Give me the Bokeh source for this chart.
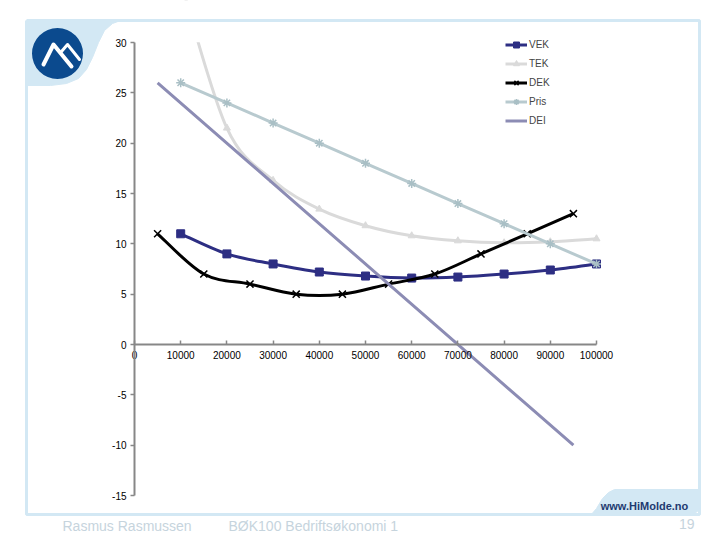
from bokeh.plotting import figure
from bokeh.models import Range1d, LinearAxis, FixedTicker, Legend, LegendItem, ColumnDataSource
from bokeh.core.properties import value
from bokeh.embed import file_html
from bokeh.resources import INLINE

# ---------------- data ----------------
quantity = [10000, 20000, 30000, 40000, 50000, 60000, 70000, 80000, 90000, 100000]
quantity_mid = [5000, 15000, 25000, 35000, 45000, 55000, 65000, 75000, 85000, 95000]
vek = [11.0, 9.0, 8.0, 7.2, 6.8, 6.6, 6.7, 7.0, 7.4, 8.0]
tek = [36.0, 21.5, 16.3, 13.45, 11.8, 10.8, 10.3, 10.1, 10.2, 10.5]
dek = [11, 7, 6, 5, 5, 6, 7, 9, 11, 13]
pris = [26, 24, 22, 20, 18, 16, 14, 12, 10, 8]
dei = [26, 22, 18, 14, 10, 6, 2, -2, -6, -10]
series_names = ["VEK", "TEK", "DEK", "Pris", "DEI"]
x_ticks = [0, 10000, 20000, 30000, 40000, 50000, 60000, 70000, 80000, 90000, 100000]
x_tick_labels = ["0", "10000", "20000", "30000", "40000", "50000", "60000", "70000", "80000", "90000", "100000"]
y_ticks = [-15, -10, -5, 0, 5, 10, 15, 20, 25, 30]
y_tick_labels = ["-15", "-10", "-5", "0", "5", "10", "15", "20", "25", "30"]
footer_left = "Rasmus Rasmussen"
footer_mid = "BØK100 Bedriftsøkonomi 1"
footer_url = "www.HiMolde.no"
page_number = "19"

W, H = 720, 540

# page pixel -> data helpers (for layout/decoration only)
def dx(px):
    return (px - 134) / 462 * 100000

def dy(py):
    return 30 - (py - 42) / 453 * 45

FONT = "Liberation Sans"
C_VEK = "#2D2E83"
C_TEK = "#DADADA"
C_DEK = "#000000"
C_PRIS = "#B8CACF"
C_DEI = "#8C8CB4"
C_DECO = "#D3E8F4"
NAN = float("nan")

p = figure(width=W, height=H,
           x_range=Range1d(dx(0), dx(W)), y_range=Range1d(dy(H), dy(0)),
           output_backend="svg", toolbar_location=None,
           x_axis_location=None, y_axis_location=None,
           min_border=0, outline_line_color=None)
p.xgrid.grid_line_color = None
p.ygrid.grid_line_color = None
p.background_fill_color = "white"
p.border_fill_color = "white"


def smooth(xs, ys):
    n = len(xs)
    d = dict(x0=[], y0=[], x1=[], y1=[], cx0=[], cy0=[], cx1=[], cy1=[])
    for i in range(n - 1):
        a = i - 1 if i > 0 else i
        b = i + 2 if i + 2 < n else i + 1
        d["x0"].append(xs[i]); d["y0"].append(ys[i])
        d["x1"].append(xs[i + 1]); d["y1"].append(ys[i + 1])
        d["cx0"].append(xs[i] + (xs[i + 1] - xs[a]) / 6)
        d["cy0"].append(ys[i] + (ys[i + 1] - ys[a]) / 6)
        d["cx1"].append(xs[i + 1] - (xs[b] - xs[i]) / 6)
        d["cy1"].append(ys[i + 1] - (ys[b] - ys[i]) / 6)
    return ColumnDataSource(d)


def curve(xs, ys, color):
    p.bezier(x0="x0", y0="y0", x1="x1", y1="y1", cx0="cx0", cy0="cy0", cx1="cx1", cy1="cy1",
             source=smooth(xs, ys), line_color=color, line_width=3)
    # legend swatch line (draws nothing on the chart)
    return p.line(x=[NAN], y=[NAN], line_color=color, line_width=3)

# VEK
l_vek = curve(quantity, vek, C_VEK)
s_vek = p.scatter(quantity, vek, marker="square", size=8, fill_color=C_VEK, line_color=C_VEK)
# TEK
l_tek = curve(quantity, tek, C_TEK)
s_tek = p.scatter(quantity, tek, marker="triangle", size=7, fill_color=C_TEK, line_color=C_TEK)
# clip TEK above the chart's top (y = 30)
p.quad(left=dx(136), right=dx(480), bottom=30.03, top=dy(0), fill_color="white", line_color=None)
# DEK
l_dek = curve(quantity_mid, dek, C_DEK)
s_dek = p.scatter(quantity_mid, dek, marker="x", size=10, line_color=C_DEK, line_width=1.5)
# Pris
l_pris = p.line(quantity, pris, line_color=C_PRIS, line_width=3)
s_pris = p.scatter(quantity, pris, marker="asterisk", size=9, line_color="#A9BFC5", line_width=1.5)
# DEI
l_dei = p.line(quantity_mid, dei, line_color=C_DEI, line_width=3)

# axes
yaxis = LinearAxis(fixed_location=0, bounds=(-15, 30), ticker=FixedTicker(ticks=y_ticks),
                   major_label_overrides={t: s for t, s in zip(y_ticks, y_tick_labels)})
xaxis = LinearAxis(fixed_location=0, bounds=(0, 100000), ticker=FixedTicker(ticks=x_ticks),
                   major_label_overrides={t: s for t, s in zip(x_ticks, x_tick_labels)})
for ax in (xaxis, yaxis):
    ax.axis_line_color = "#878787"
    ax.axis_line_width = 2
    ax.major_tick_line_color = "#878787"
    ax.major_tick_line_width = 1.5
    ax.minor_tick_line_color = None
    ax.major_label_text_font = FONT
    ax.major_label_text_font_size = "10px"
    ax.major_label_text_color = "#000000"
yaxis.major_tick_out = 4
yaxis.major_tick_in = 0
yaxis.major_label_standoff = 4
xaxis.major_tick_out = 0
xaxis.major_tick_in = 4
xaxis.major_label_standoff = 6
p.add_layout(yaxis, "left")
p.add_layout(xaxis, "below")

# legend
legend = Legend(items=[
    LegendItem(label=series_names[0], renderers=[l_vek, s_vek]),
    LegendItem(label=series_names[1], renderers=[l_tek, s_tek]),
    LegendItem(label=series_names[2], renderers=[l_dek, s_dek]),
    LegendItem(label=series_names[3], renderers=[l_pris, s_pris]),
    LegendItem(label=series_names[4], renderers=[l_dei]),
], location=(505, 412), padding=0, margin=0, spacing=4,
   glyph_width=22, glyph_height=15, label_height=15, label_standoff=2,
   label_text_font=FONT, label_text_font_size="10px", label_text_baseline="middle",
   border_line_alpha=0, background_fill_alpha=0)
p.add_layout(legend)

# ---------------- slide decorations ----------------
# frame
p.line([dx(26), dx(699), dx(699), dx(26), dx(26)], [dy(20), dy(20), dy(514), dy(514), dy(20)],
       line_color=C_DECO, line_width=3)
# top-left blob
blob_x = [26, 120, 112, 104, 98, 92, 86, 78, 66, 50, 26]
blob_y = [20, 20, 23, 30, 42, 57, 69, 78, 83, 85, 85]
p.patch([dx(v) for v in blob_x], [dy(v) for v in blob_y], fill_color=C_DECO, line_color=C_DECO)
# logo
p.scatter([dx(57)], [dy(53)], marker="circle", size=51, fill_color="#0B4A8E", line_color=None)
p.line([dx(v) for v in [43, 53, 71]], [dy(v) for v in [64, 44, 66]], line_color="white", line_width=4,
       line_cap="round", line_join="round")
p.line([dx(v) for v in [61, 67, 79]], [dy(v) for v in [51, 44, 59]], line_color="white", line_width=3,
       line_cap="round", line_join="round")
# bottom-right tab
tab_x = [590, 596, 602, 608, 614, 700, 700, 698, 694, 688, 590]
tab_y = [515, 508, 498, 492, 489, 489, 505, 510, 513, 515, 515]
p.patch([dx(v) for v in tab_x], [dy(v) for v in tab_y], fill_color=C_DECO, line_color=C_DECO)
p.text([dx(644)], [dy(505)], text=[footer_url], text_font=value(FONT), text_font_size="11px",
       text_font_style="bold", text_color="#1E3A70", text_align="center", text_baseline="middle")
# footer texts
p.text([dx(62)], [dy(525)], text=[footer_left], text_font=value(FONT), text_font_size="14px",
       text_color="#C6D4DD", text_align="left", text_baseline="middle")
p.text([dx(228)], [dy(525)], text=[footer_mid], text_font=value(FONT), text_font_size="14px",
       text_color="#C6D4DD", text_align="left", text_baseline="middle")
p.text([dx(694)], [dy(523)], text=[page_number], text_font=value(FONT), text_font_size="14px",
       text_color="#C6D4DD", text_align="right", text_baseline="middle")

open("out.html", "w").write(file_html(p, INLINE))
